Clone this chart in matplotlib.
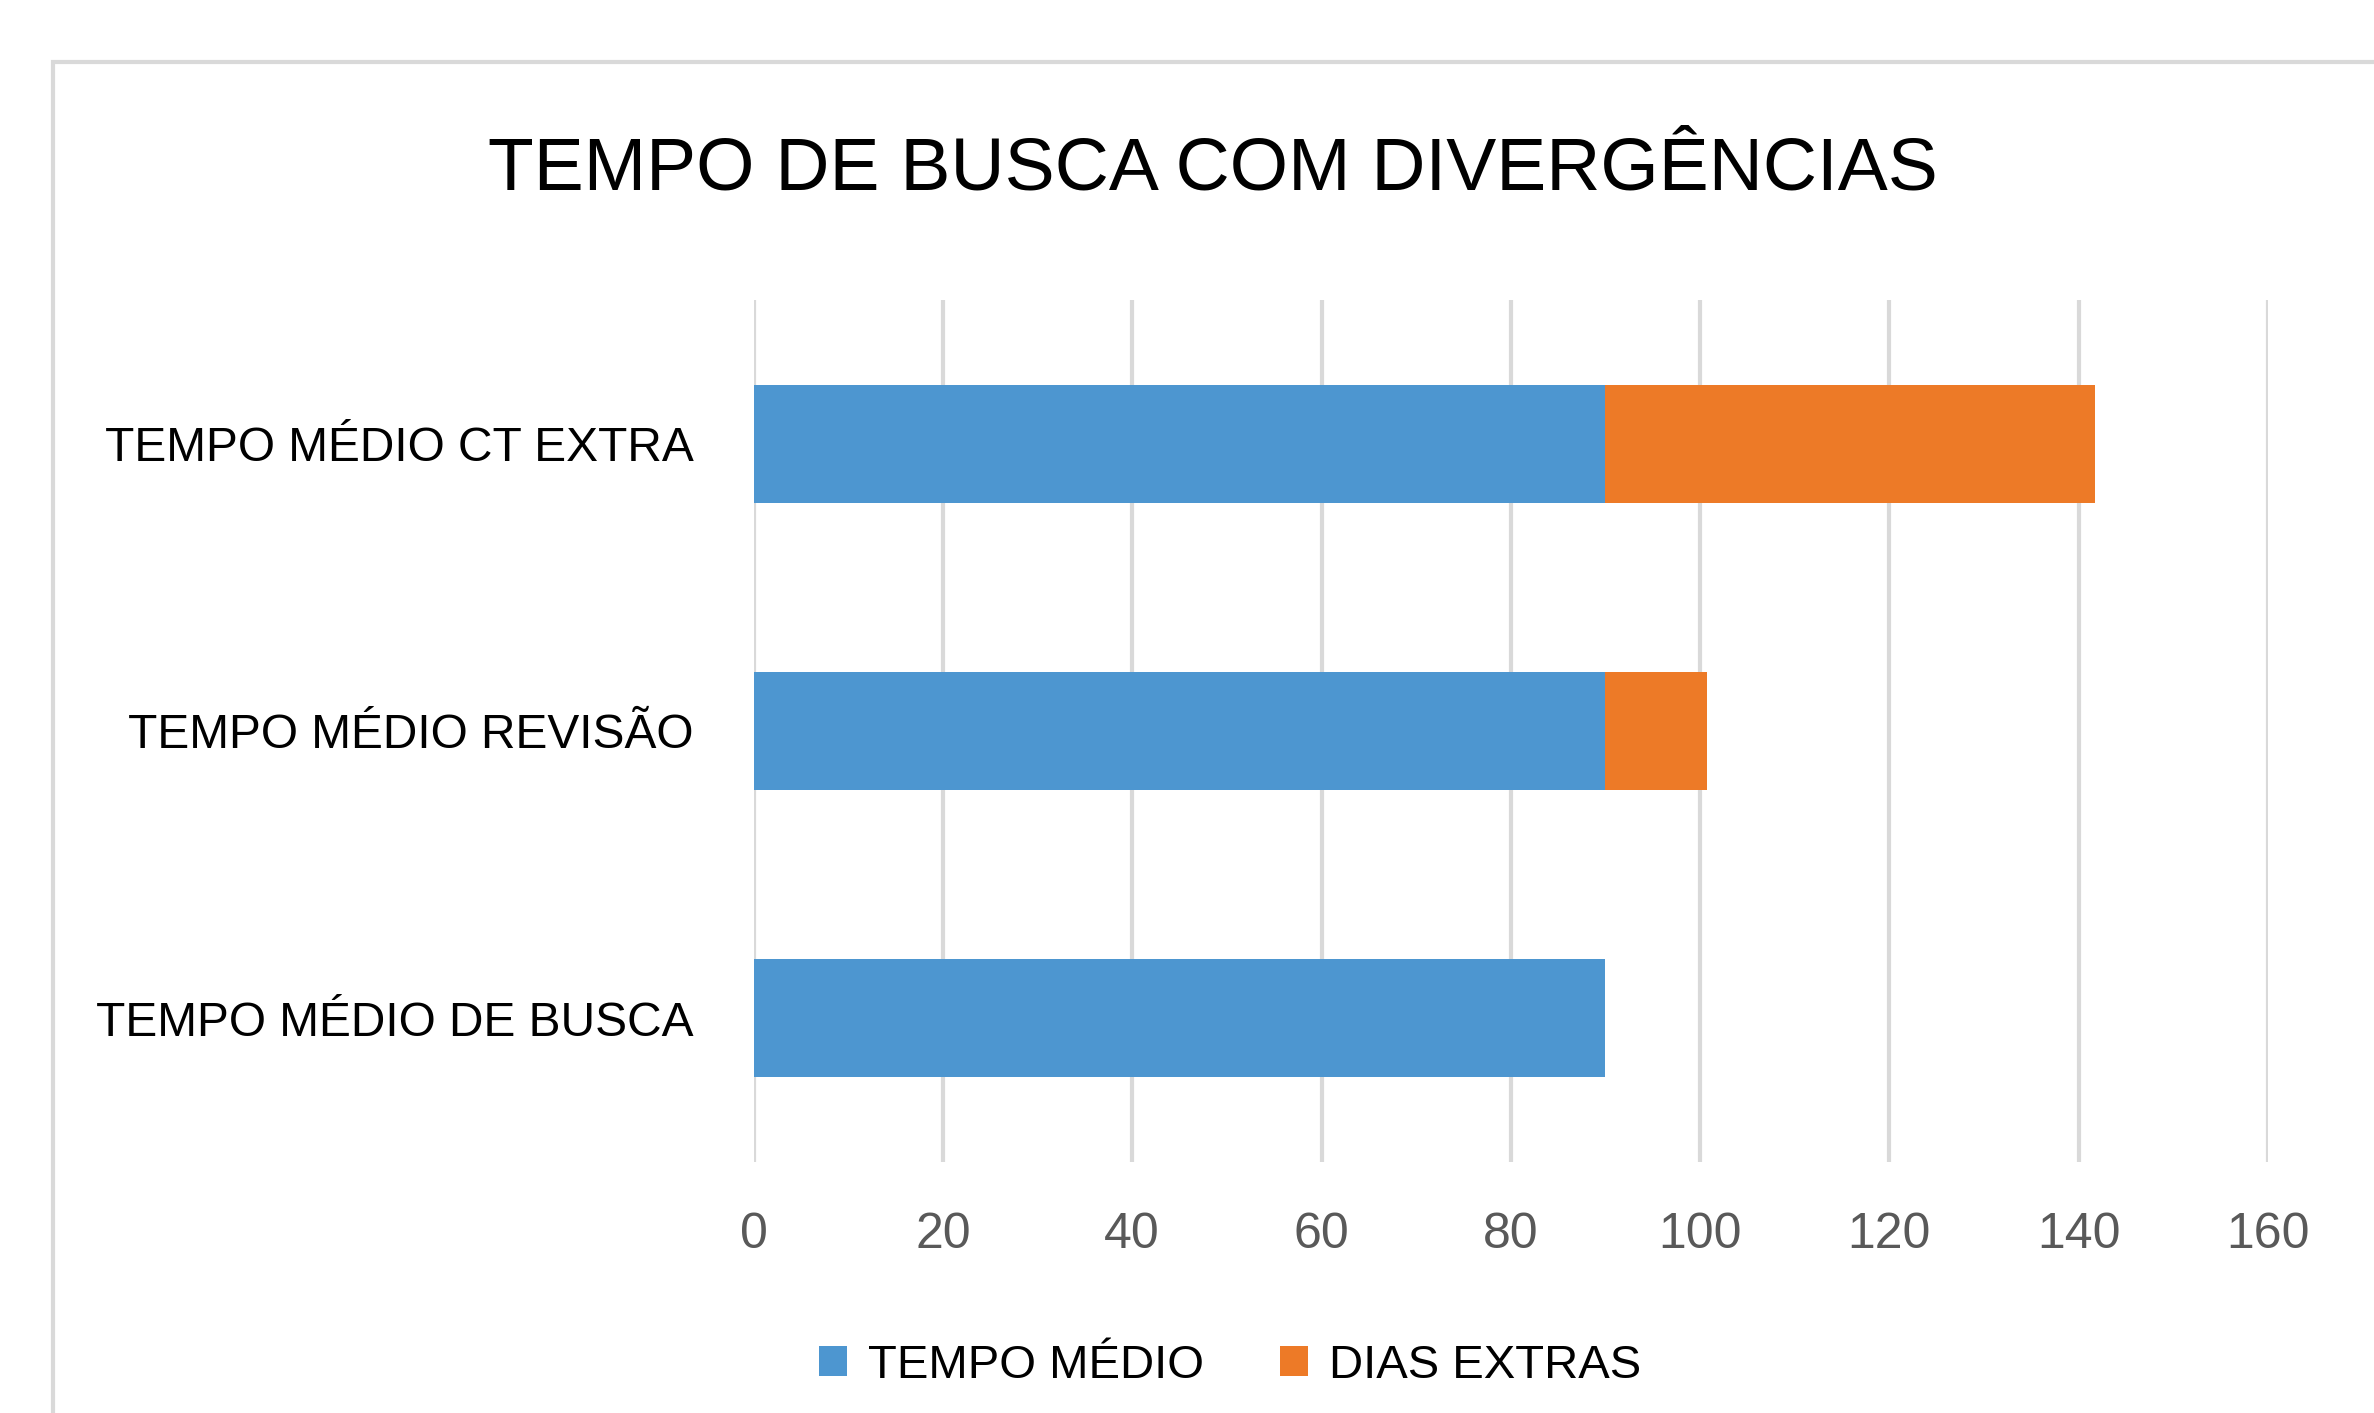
import matplotlib
matplotlib.use("Agg")
import matplotlib.pyplot as plt
from matplotlib.patches import Rectangle

categories = ["TEMPO MÉDIO DE BUSCA", "TEMPO MÉDIO REVISÃO", "TEMPO MÉDIO CT EXTRA"]
tempo_medio = [90, 90, 90]
dias_extras = [0, 10.7, 51.7]
series_names = ["TEMPO MÉDIO", "DIAS EXTRAS"]
x_ticks = [0, 20, 40, 60, 80, 100, 120, 140, 160]
title = "TEMPO DE BUSCA COM DIVERGÊNCIAS"

BLUE = "#4D96D0"
ORANGE = "#ED7A27"
GRID = "#D9D9D9"

plt.rcParams['font.family'] = ['Liberation Sans', 'DejaVu Sans']

fig = plt.figure(figsize=(23.74, 14.13), dpi=100)
fig.patch.set_facecolor("white")

# chart frame (cropped at right and bottom)
frame = Rectangle((53 / 2374, -0.1), 1.2, 1 - 62 / 1413 + 0.1, transform=fig.transFigure,
                  fill=False, edgecolor=GRID, linewidth=3, zorder=0)
fig.patches.append(frame)

ax = fig.add_axes([753.6 / 2374, 1 - 1162 / 1413, (2268 - 753.6) / 2374, 862 / 1413])
y = list(range(len(categories)))
h = 0.41
ax.barh(y, tempo_medio, height=h, color=BLUE, label=series_names[0], zorder=3)
ax.barh(y, dias_extras, left=tempo_medio, height=h, color=ORANGE, label=series_names[1], zorder=3)

ax.set_xlim(0, 160)
ax.set_ylim(-0.5, 2.5)
ax.set_xticks(x_ticks)
ax.set_xticklabels([str(t) for t in x_ticks])
ax.set_yticks(y)
ax.set_yticklabels(categories)
ax.tick_params(axis='x', length=0, pad=36, labelsize=36, labelcolor="#595959")
ax.tick_params(axis='y', length=0, pad=43, labelsize=34.5, labelcolor="#000000")
for s in ax.spines.values():
    s.set_visible(False)
ax.grid(axis='x', color=GRID, linewidth=3, zorder=0)
ax.set_axisbelow(True)

fig.text(1213 / 2374, 1 - 170 / 1413, title, ha='center', va='center', fontsize=54, color="#000000")

handles, labels = ax.get_legend_handles_labels()
leg = fig.legend(handles, labels, loc='center', bbox_to_anchor=(1230 / 2374, 1 - 1366 / 1413),
                 ncol=2, frameon=False, fontsize=34, handlelength=0.6, handleheight=0.6,
                 handletextpad=0.45, columnspacing=1.6)
for t in leg.get_texts():
    t.set_color("#000000")

fig.savefig("out.png", dpi=100, facecolor="white")
